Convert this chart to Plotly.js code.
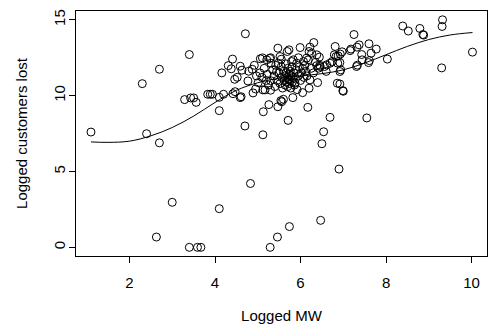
<!DOCTYPE html>
<html>
<head>
<meta charset="utf-8">
<script src="https://cdn.plot.ly/plotly-3.0.1.min.js"></script>
<style>html,body{margin:0;padding:0;background:#fff;}#chart{width:492px;height:328px;}</style>
</head>
<body>
<div id="chart"></div>
<script>
// Scatter points: logged MW (x) and logged customers lost (y)
const loggedMW = [
  1.10,2.30,2.40,2.63,2.70,2.70,3.00,3.29,3.40,3.40,3.43,3.50,3.56,3.59,3.67,3.83,3.89,3.94,
  4.10,4.10,4.10,4.16,4.20,4.31,4.38,4.41,4.42,4.46,4.47,4.52,4.59,4.61,4.59,4.63,4.70,4.71,
  4.77,4.79,4.83,4.87,4.89,4.95,5.01,5.06,5.11,5.12,5.12,5.13,5.21,5.26,5.28,5.29,5.30,5.30,
  5.31,5.46,5.47,5.47,5.48,5.44,5.52,5.54,5.60,5.69,5.71,5.73,5.74,5.79,5.82,5.83,5.91,5.99,
  6.05,6.07,6.14,6.17,6.18,6.20,6.20,6.22,6.22,6.26,6.31,6.38,6.38,6.40,6.42,6.44,6.46,6.47,
  6.50,6.54,6.56,6.61,6.69,6.69,6.74,6.79,6.81,6.83,6.87,6.88,6.90,6.92,6.92,6.92,6.93,6.94,
  6.97,6.99,7.00,7.16,7.18,7.25,7.31,7.33,7.32,7.37,7.43,7.44,7.55,7.59,7.60,7.61,7.65,7.77,
  8.03,8.39,8.52,8.79,8.86,8.88,9.30,9.31,9.32,10.02,
  5.05,5.10,5.15,5.20,5.22,5.25,5.35,5.38,5.40,5.42,5.45,5.50,5.52,5.55,5.56,5.58,5.60,5.62,
  5.63,5.64,5.65,5.66,5.67,5.68,5.70,5.70,5.72,5.73,5.74,5.75,5.76,5.77,5.78,5.80,5.81,5.82,
  5.84,5.86,5.88,5.90,5.92,5.95,5.97,6.00,6.02,6.05,6.08,6.10,6.12,6.15,6.25,6.30,6.35,6.45,
  4.92,4.97,5.30,5.55,5.95,6.60,5.17,5.87,5.56,6.86
];
const loggedCustomersLost = [
  7.60,10.79,7.49,0.68,11.74,6.89,2.97,9.74,12.71,0.00,9.85,9.85,9.56,0.00,0.00,10.09,10.09,10.09,
  9.01,9.89,2.55,11.50,10.09,11.98,11.77,12.41,10.13,11.08,10.26,11.21,9.87,9.93,11.94,11.68,8.00,14.08,
  10.97,11.61,4.21,11.74,10.18,10.44,10.86,12.43,12.49,7.42,10.38,8.94,12.36,9.41,12.45,0.00,10.99,10.36,
  12.14,0.68,13.13,9.27,12.14,11.59,12.58,9.67,9.76,12.91,8.37,13.02,1.37,12.25,9.87,12.36,12.14,13.17,
  10.20,12.25,12.47,9.23,12.36,10.49,12.91,11.04,13.20,12.80,13.50,11.98,12.69,10.86,11.81,12.54,11.92,1.78,
  6.83,7.62,11.92,12.03,12.14,8.57,12.25,12.69,13.24,12.58,12.14,12.62,5.16,10.77,11.59,12.18,12.74,11.70,
  12.89,10.33,10.29,12.97,13.07,14.03,11.92,12.01,13.20,13.35,12.71,12.36,8.53,12.18,13.42,12.31,12.80,13.07,
  12.41,14.59,14.26,14.43,14.03,13.99,11.83,14.56,15.00,12.87,
  11.5,11.2,11.8,11.0,11.4,10.7,11.7,11.3,10.6,12.0,11.0,11.5,10.8,11.9,11.2,10.5,11.6,11.0,
  11.3,10.7,12.1,11.5,10.9,11.2,10.6,11.8,11.1,11.4,10.8,11.0,11.6,10.5,11.3,11.9,10.9,11.2,
  11.5,10.7,11.1,11.7,10.4,11.3,11.9,11.0,11.5,11.8,11.2,12.0,11.6,11.3,11.8,11.5,12.2,12.0,
  12.0,11.3,12.5,12.4,12.5,11.6,10.38,10.82,9.60,10.82
];
// Smoothed fit line
const smoothX = [1.10,1.5,2.0,2.5,3.0,3.5,4.0,4.5,5.0,5.5,6.0,6.5,7.0,7.5,8.0,8.5,9.0,9.5,10.02];
const smoothY = [6.95,6.92,7.00,7.35,7.90,8.65,9.55,10.35,10.85,11.15,11.30,11.45,11.70,12.15,12.70,13.25,13.70,14.00,14.16];
const xTicks = [2,4,6,8,10];
const yTicks = [0,5,10,15];

const font = {family: 'Liberation Sans, Arial, sans-serif', size: 15, color: '#000'};

const traces = [
  {x: loggedMW, y: loggedCustomersLost, type: 'scatter', mode: 'markers',
   marker: {symbol: 'circle-open', size: 8, color: '#000', line: {width: 1, color: '#000'}},
   hoverinfo: 'skip'},
  {x: smoothX, y: smoothY, type: 'scatter', mode: 'lines',
   line: {color: '#000', width: 1, shape: 'spline', smoothing: 1}, hoverinfo: 'skip'}
];

const layout = {
  width: 492, height: 328,
  margin: {l: 76, r: 5, t: 11, b: 72},
  paper_bgcolor: '#fff', plot_bgcolor: '#fff',
  showlegend: false,
  font: font,
  xaxis: {
    range: [0.75, 10.36], tickvals: xTicks, ticktext: xTicks.map(String),
    showgrid: false, zeroline: false, showline: true, mirror: true,
    linecolor: '#000', linewidth: 1, ticks: 'outside', ticklen: 6, tickcolor: '#000', tickwidth: 1,
    tickfont: font, ticklabelstandoff: 7,
    title: {text: 'Logged MW', font: font, standoff: 20}
  },
  yaxis: {
    range: [-0.57, 15.58], tickvals: yTicks, ticktext: yTicks.map(String),
    showgrid: false, zeroline: false, showline: true, mirror: true,
    linecolor: '#000', linewidth: 1, ticks: 'outside', ticklen: 6, tickcolor: '#000', tickwidth: 1,
    tickfont: font, tickangle: -90, ticklabelstandoff: -2,
    title: {text: 'Logged customers lost', font: font, standoff: 19}
  }
};

Plotly.newPlot('chart', traces, layout, {staticPlot: true, displayModeBar: false});
</script>
</body>
</html>
